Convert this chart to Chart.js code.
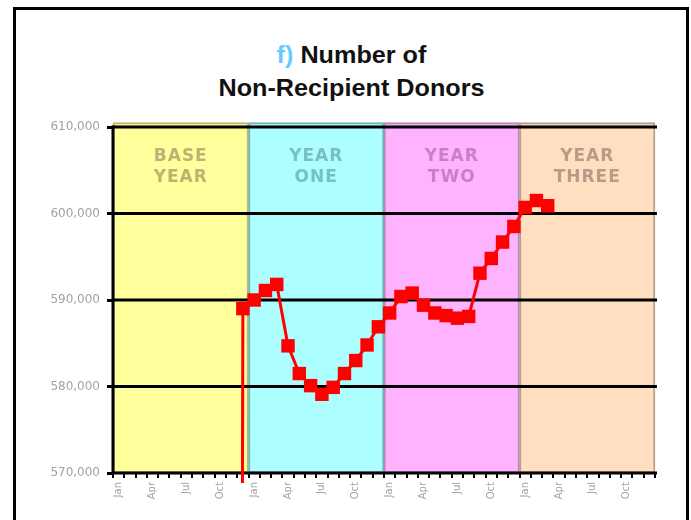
<!DOCTYPE html>
<html>
<head>
<meta charset="utf-8">
<script src="https://cdn.jsdelivr.net/npm/chart.js@4"></script>
<style>
  body { margin: 0; background: #fff; }
  #wrap { position: relative; width: 691px; height: 520px; overflow: hidden; }
  #frame { position: absolute; left: 13px; top: 7px; width: 670px; height: 600px; border: 3px solid #000; }
  .title { position: absolute; left: 6px; width: 691px; text-align: center;
           font-family: "Liberation Sans", Arial, sans-serif; font-size: 24px; font-weight: bold; color: #111;
           transform: scaleX(1.05); }
  #t1 { top: 41px; }
  #t2 { top: 74px; }
  #t1 span { color: #66ccff; }
  canvas { position: absolute; left: 0; top: 0; }
</style>
</head>
<body>
<div id="wrap">
  <div id="frame"></div>
  <div class="title" id="t1"><span>f)</span> Number of</div>
  <div class="title" id="t2">Non-Recipient Donors</div>
  <canvas id="myChart" width="691" height="520"></canvas>
</div>
<script>
// Month categories, 4 years of 12
const monthNames = ['Jan', 'Feb', 'Mar', 'Apr', 'May', 'Jun', 'Jul', 'Aug', 'Sep', 'Oct', 'Nov', 'Dec'];
const months = [].concat(monthNames, monthNames, monthNames, monthNames);

// Year bands behind the line
const bandKeys = ['base', 'one', 'two', 'three'];
const bandNames = [['BASE', 'YEAR'], ['YEAR', 'ONE'], ['YEAR', 'TWO'], ['YEAR', 'THREE']];
const bandRange = [570000, 610500];

// Number of non-recipient donors per month (blank months are null)
const donors = [
    null, null, null, null, null, null, null, null, null, null,
    0, 589000,
    590000, 591100, 591800, 584700, 581500, 580100, 579100, 579900, 581500, 583000, 584800, 586900,
    588500, 590400, 590800, 589400, 588500, 588200, 587900, 588100, 593100, 594800, 596700, 598500,
    600700, 601500, 600900, null, null, null, null, null, null, null, null, null
];

// y axis
const yMin = 570000;
const yMax = 610000;
const yStep = 10000;

const bandFill = ['#ffff9c', '#adffff', '#ffb3ff', '#ffdfc0'];
const bandEdge = ['#bdb972', '#72b6b6', '#b88ab8', '#b8a08e'];
const bandText = ['#bab474', '#78c0c0', '#c87ecc', '#b89c88'];

// Draws year captions and the black grid on top of the bands, under the line
const bandOverlay = {
    id: 'bandOverlay',
    afterDatasetDraw(chart, args) {
        if (args.index !== 0) return;
        const ctx = chart.ctx;
        const area = chart.chartArea;
        const xb = chart.scales.xBand;
        const y = chart.scales.y;
        ctx.save();
        ctx.font = 'bold 17px "DejaVu Sans"';
        ctx.letterSpacing = '1px';
        ctx.textAlign = 'center';
        ctx.textBaseline = 'middle';
        bandNames.forEach((lines, i) => {
            const cx = xb.getPixelForValue(i);
            ctx.fillStyle = bandText[i];
            lines.forEach((s, j) => ctx.fillText(s, cx, area.top + 30 + j * 21));
        });
        ctx.letterSpacing = '0px';
        ctx.strokeStyle = '#000';
        ctx.lineWidth = 3;
        y.ticks.forEach(t => {
            const py = y.getPixelForValue(t.value);
            ctx.beginPath();
            ctx.moveTo(area.left - 1, py);
            ctx.lineTo(area.right + 2, py);
            ctx.stroke();
        });
        ctx.beginPath();
        ctx.moveTo(area.left, area.top - 1.5);
        ctx.lineTo(area.left, area.bottom + 1.5);
        ctx.stroke();
        ctx.restore();
    }
};

const ctx = document.getElementById('myChart').getContext('2d');
new Chart(ctx, {
    type: 'bar',
    data: {
        labels: months,
        datasets: [{
            label: 'Year',
            data: bandKeys.map(() => bandRange),
            xAxisID: 'xBand',
            backgroundColor: bandFill,
            borderColor: bandEdge,
            borderWidth: 2,
            borderSkipped: false,
            grouped: false,
            barPercentage: 1,
            categoryPercentage: 1,
            clip: false,
            order: 1
        }, {
            type: 'line',
            label: 'Non-Recipient Donors',
            data: donors,
            xAxisID: 'x',
            borderColor: '#ff0000',
            borderWidth: 3,
            backgroundColor: '#ff0000',
            pointStyle: 'rect',
            pointRadius: 9.5,
            pointBorderWidth: 0,
            pointBackgroundColor: '#ff0000',
            tension: 0,
            spanGaps: false,
            clip: { left: 10, top: 10, right: 10, bottom: 10 },
            order: 0
        }]
    },
    options: {
        responsive: false,
        animation: false,
        layout: { padding: { left: 0, top: 127, right: 36, bottom: 0 } },
        plugins: {
            legend: { display: false },
            tooltip: { enabled: false }
        },
        scales: {
            xBand: {
                type: 'category',
                labels: bandKeys,
                display: false,
                offset: true
            },
            x: {
                type: 'category',
                offset: true,
                grid: { offset: true, drawOnChartArea: false, color: '#000', lineWidth: 2, tickLength: 5 },
                border: { display: false },
                ticks: {
                    autoSkip: false,
                    maxRotation: 90,
                    minRotation: 90,
                    padding: 4,
                    color: '#a0a4a0',
                    font: { family: 'DejaVu Sans', size: 10 },
                    callback: (v, i) => (i % 3 === 0 ? months[i] : '')
                },
                afterFit: s => { s.height = 47; }
            },
            y: {
                min: yMin,
                max: yMax,
                grid: { drawOnChartArea: false, color: '#000', lineWidth: 3, tickLength: 6 },
                border: { display: false },
                ticks: {
                    stepSize: yStep,
                    padding: 7,
                    color: '#a0a4a0',
                    font: { family: 'DejaVu Sans', size: 12 },
                    callback: v => v.toLocaleString('en-US')
                },
                afterFit: s => { s.width = 113; }
            }
        }
    },
    plugins: [bandOverlay]
});
</script>
</body>
</html>
